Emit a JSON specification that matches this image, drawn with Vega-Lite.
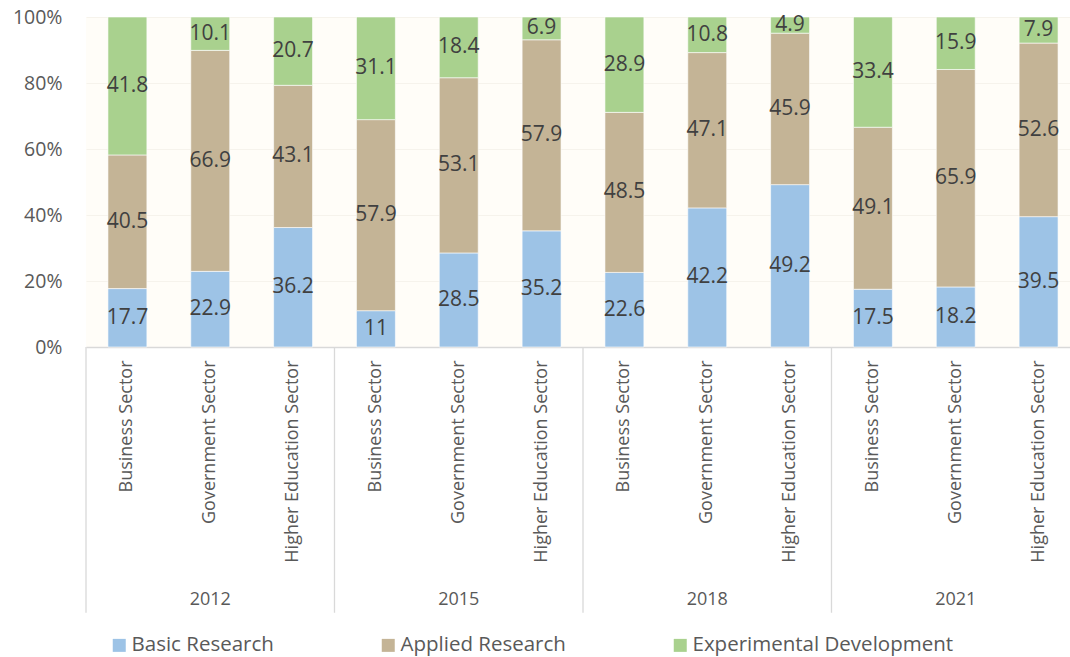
{
  "$schema": "https://vega.github.io/schema/vega-lite/v6.json",
  "autosize": {"type": "none"},
  "padding": {"left": 86, "top": 17, "right": 0, "bottom": 310},
  "width": 984,
  "height": 330,
  "background": "#FFFFFF",
  "config": {
    "font": "Open Sans",
    "view": {"fill": "#FFFDF8", "stroke": null},
    "axisX": {
      "labelAngle": -90,
      "labelFontSize": 18,
      "labelColor": "#595959",
      "labelPadding": 13,
      "labelLimit": 400,
      "ticks": false,
      "domain": true,
      "domainColor": "#D9D9D9",
      "domainWidth": 1.3,
      "grid": false
    },
    "axisY": {
      "labelFontSize": 19.5,
      "labelColor": "#595959",
      "labelPadding": 24,
      "ticks": false,
      "domain": false,
      "grid": true,
      "gridColor": "#F6F3EC",
      "gridWidth": 1
    }
  },
  "datasets": {
    "rd": [
      {"year": "2012", "sector": "Business Sector", "type": "Basic Research", "value": 17.7},
      {"year": "2012", "sector": "Business Sector", "type": "Applied Research", "value": 40.5},
      {"year": "2012", "sector": "Business Sector", "type": "Experimental Development", "value": 41.8},
      {"year": "2012", "sector": "Government Sector", "type": "Basic Research", "value": 22.9},
      {"year": "2012", "sector": "Government Sector", "type": "Applied Research", "value": 66.9},
      {"year": "2012", "sector": "Government Sector", "type": "Experimental Development", "value": 10.1},
      {"year": "2012", "sector": "Higher Education Sector", "type": "Basic Research", "value": 36.2},
      {"year": "2012", "sector": "Higher Education Sector", "type": "Applied Research", "value": 43.1},
      {"year": "2012", "sector": "Higher Education Sector", "type": "Experimental Development", "value": 20.7},
      {"year": "2015", "sector": "Business Sector", "type": "Basic Research", "value": 11},
      {"year": "2015", "sector": "Business Sector", "type": "Applied Research", "value": 57.9},
      {"year": "2015", "sector": "Business Sector", "type": "Experimental Development", "value": 31.1},
      {"year": "2015", "sector": "Government Sector", "type": "Basic Research", "value": 28.5},
      {"year": "2015", "sector": "Government Sector", "type": "Applied Research", "value": 53.1},
      {"year": "2015", "sector": "Government Sector", "type": "Experimental Development", "value": 18.4},
      {"year": "2015", "sector": "Higher Education Sector", "type": "Basic Research", "value": 35.2},
      {"year": "2015", "sector": "Higher Education Sector", "type": "Applied Research", "value": 57.9},
      {"year": "2015", "sector": "Higher Education Sector", "type": "Experimental Development", "value": 6.9},
      {"year": "2018", "sector": "Business Sector", "type": "Basic Research", "value": 22.6},
      {"year": "2018", "sector": "Business Sector", "type": "Applied Research", "value": 48.5},
      {"year": "2018", "sector": "Business Sector", "type": "Experimental Development", "value": 28.9},
      {"year": "2018", "sector": "Government Sector", "type": "Basic Research", "value": 42.2},
      {"year": "2018", "sector": "Government Sector", "type": "Applied Research", "value": 47.1},
      {"year": "2018", "sector": "Government Sector", "type": "Experimental Development", "value": 10.8},
      {"year": "2018", "sector": "Higher Education Sector", "type": "Basic Research", "value": 49.2},
      {"year": "2018", "sector": "Higher Education Sector", "type": "Applied Research", "value": 45.9},
      {"year": "2018", "sector": "Higher Education Sector", "type": "Experimental Development", "value": 4.9},
      {"year": "2021", "sector": "Business Sector", "type": "Basic Research", "value": 17.5},
      {"year": "2021", "sector": "Business Sector", "type": "Applied Research", "value": 49.1},
      {"year": "2021", "sector": "Business Sector", "type": "Experimental Development", "value": 33.4},
      {"year": "2021", "sector": "Government Sector", "type": "Basic Research", "value": 18.2},
      {"year": "2021", "sector": "Government Sector", "type": "Applied Research", "value": 65.9},
      {"year": "2021", "sector": "Government Sector", "type": "Experimental Development", "value": 15.9},
      {"year": "2021", "sector": "Higher Education Sector", "type": "Basic Research", "value": 39.5},
      {"year": "2021", "sector": "Higher Education Sector", "type": "Applied Research", "value": 52.6},
      {"year": "2021", "sector": "Higher Education Sector", "type": "Experimental Development", "value": 7.9}
    ],
    "years": [
      {"year": "2012"},
      {"year": "2015"},
      {"year": "2018"},
      {"year": "2021"}
    ]
  },
  "layer": [
    {
      "data": {"name": "rd"},
      "transform": [
        {"calculate": "datum.year + '|' + datum.sector", "as": "key"},
        {"calculate": "indexof(['Basic Research','Applied Research','Experimental Development'], datum.type)", "as": "ord"},
        {"stack": "value", "groupby": ["key"], "sort": [{"field": "ord", "order": "ascending"}], "offset": "normalize", "as": ["y0", "y1"]},
        {"calculate": "(datum.y0 + datum.y1) / 2", "as": "ymid"}
      ],
      "layer": [
        {
          "mark": {"type": "bar", "width": {"band": 0.47}, "stroke": "#FFFFFF", "strokeWidth": 0.6},
          "encoding": {
            "x": {
              "field": "key", "type": "nominal", "sort": null,
              "scale": {"paddingInner": 0, "paddingOuter": 0, "range": [0, 994]},
              "axis": {"title": null, "labelExpr": "split(datum.label, '|')[1]"}
            },
            "y": {
              "field": "y0", "type": "quantitative",
              "scale": {"domain": [0, 1], "nice": false},
              "axis": {"title": null, "format": ".0%", "values": [0, 0.2, 0.4, 0.6, 0.8, 1]}
            },
            "y2": {"field": "y1"},
            "color": {
              "field": "type", "type": "nominal",
              "scale": {
                "domain": ["Basic Research", "Applied Research", "Experimental Development"],
                "range": ["#9DC3E6", "#C4B496", "#A9D18E"]
              },
              "legend": {
                "title": null,
                "orient": "none",
                "direction": "horizontal",
                "legendX": 23,
                "legendY": 618,
                "symbolType": "square",
                "symbolSize": 169,
                "symbolStrokeWidth": 0,
                "labelFontSize": 20.5,
                "labelColor": "#595959",
                "labelOffset": 2,
                "labelLimit": 400,
                "columnPadding": 104
              }
            }
          }
        },
        {
          "mark": {"type": "text", "fontSize": 21, "color": "#404040", "baseline": "middle", "align": "center"},
          "encoding": {
            "x": {"field": "key", "type": "nominal", "sort": null,
              "axis": {"title": null, "labelExpr": "split(datum.label, '|')[1]"}},
            "y": {"field": "ymid", "type": "quantitative",
              "axis": {"title": null, "format": ".0%", "values": [0, 0.2, 0.4, 0.6, 0.8, 1]}},
            "text": {"field": "value", "type": "quantitative"}
          }
        }
      ]
    },
    {
      "data": {"name": "years"},
      "transform": [
        {"calculate": "datum.year + '|Business Sector'", "as": "startKey"}
      ],
      "mark": {"type": "rule", "color": "#D9D9D9", "strokeWidth": 1.3, "clip": false},
      "encoding": {
        "x": {"field": "startKey", "type": "nominal", "bandPosition": 0,
          "axis": {"title": null, "labelExpr": "split(datum.label, '|')[1]"}},
        "y": {"datum": 0, "type": "quantitative",
          "axis": {"title": null, "format": ".0%", "values": [0, 0.2, 0.4, 0.6, 0.8, 1]}},
        "y2": {"datum": -0.805}
      }
    },
    {
      "data": {"name": "years"},
      "transform": [
        {"calculate": "datum.year + '|Government Sector'", "as": "midKey"}
      ],
      "mark": {"type": "text", "fontSize": 18, "color": "#595959", "baseline": "middle", "align": "center", "clip": false},
      "encoding": {
        "x": {"field": "midKey", "type": "nominal",
          "axis": {"title": null, "labelExpr": "split(datum.label, '|')[1]"}},
        "y": {"datum": -0.766, "type": "quantitative",
          "axis": {"title": null, "format": ".0%", "values": [0, 0.2, 0.4, 0.6, 0.8, 1]}},
        "text": {"field": "year", "type": "nominal"}
      }
    }
  ]
}
